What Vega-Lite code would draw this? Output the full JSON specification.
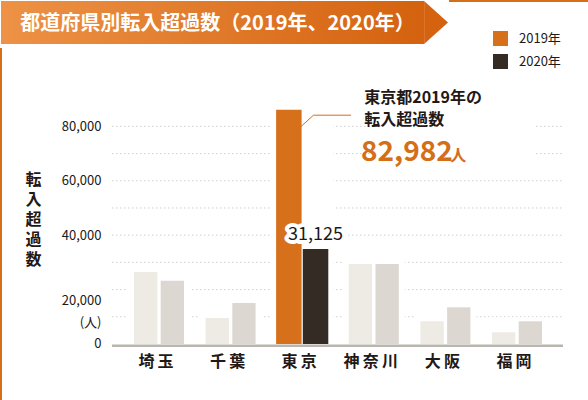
{
  "$schema": "https://vega.github.io/schema/vega-lite/v6.json",
  "padding": 0,
  "background": "white",
  "spacing": 0,
  "bounds": "full",
  "config": {
    "font": "Noto Sans CJK JP",
    "view": {"stroke": null}
  },
  "datasets": {
    "bars": [
      {"pref": "埼玉", "year": "2019年", "value": 26470},
      {"pref": "埼玉", "year": "2020年", "value": 23270},
      {"pref": "千葉", "year": "2019年", "value": 9560},
      {"pref": "千葉", "year": "2020年", "value": 15070},
      {"pref": "東京", "year": "2019年", "value": 86130},
      {"pref": "東京", "year": "2020年", "value": 34920},
      {"pref": "神奈川", "year": "2019年", "value": 29410},
      {"pref": "神奈川", "year": "2020年", "value": 29410},
      {"pref": "大阪", "year": "2019年", "value": 8350},
      {"pref": "大阪", "year": "2020年", "value": 13490},
      {"pref": "福岡", "year": "2019年", "value": 4300},
      {"pref": "福岡", "year": "2020年", "value": 8350}
    ],
    "grid": [
      {"v": 10000}, {"v": 20000}, {"v": 30000}, {"v": 40000},
      {"v": 50000}, {"v": 60000}, {"v": 70000}, {"v": 80000}
    ]
  },
  "vconcat": [
    {
      "spacing": 0,
      "hconcat": [
        {
          "width": 423,
          "height": 43,
          "view": {
            "stroke": null,
            "fill": {
              "gradient": "linear",
              "stops": [
                {"offset": 0, "color": "#ed9246"},
                {"offset": 1, "color": "#d4620f"}
              ]
            }
          },
          "data": {"values": [{"t": "都道府県別転入超過数（2019年、2020年）"}]},
          "mark": {"type": "text", "color": "white", "fontSize": 20, "fontWeight": "bold", "dx": 5, "dy": 1.5},
          "encoding": {"text": {"field": "t"}}
        },
        {
          "width": 22,
          "height": 43,
          "data": {"values": [{}]},
          "mark": {
            "type": "point",
            "shape": "M-0.6,-1L0.512,0L-0.6,1Z",
            "size": 1849,
            "filled": true,
            "opacity": 1,
            "strokeWidth": 0,
            "color": "#d4620f"
          }
        },
        {
          "width": 143,
          "height": 43,
          "view": {
            "strokeWidth": 2,
            "stroke": {
              "gradient": "linear", "x1": 0, "y1": 0, "x2": 0, "y2": 1,
              "stops": [
                {"offset": 0, "color": "#d46e17"},
                {"offset": 0.03, "color": "#d46e17"},
                {"offset": 0.031, "color": "rgba(212,110,23,0)"},
                {"offset": 1, "color": "rgba(212,110,23,0)"}
              ]
            }
          },
          "data": {"values": [{}]},
          "mark": {"type": "text", "text": ""}
        }
      ]
    },
    {
      "width": 588,
      "height": 356,
      "view": {
        "strokeWidth": 2,
        "stroke": {
          "gradient": "linear", "x1": 0, "y1": 0, "x2": 0, "y2": 1,
          "stops": [
            {"offset": 0, "color": "rgba(212,110,23,0)"},
            {"offset": 0.006, "color": "rgba(212,110,23,0)"},
            {"offset": 0.007, "color": "#d46e17"},
            {"offset": 1, "color": "#d46e17"}
          ]
        }
      },
      "data": {"name": "bars"},
      "layer": [
        {
          "data": {"name": "grid"},
          "mark": {"type": "rule", "color": "#cfcfcf", "strokeDash": [1.5, 2.5], "strokeWidth": 1, "xOffset": -47, "x2Offset": 46},
          "encoding": {
            "x": {"datum": "埼玉"},
            "x2": {"datum": "福岡"},
            "y": {"field": "v", "type": "quantitative"}
          }
        },
        {
          "mark": {"type": "bar", "color": "white", "width": {"band": 1.24}, "yOffset": -4},
          "encoding": {
            "x": {"field": "pref", "type": "nominal"},
            "y": {"aggregate": "max", "field": "value", "type": "quantitative"}
          }
        },
        {
          "data": {"values": [{}]},
          "mark": {"type": "rect", "color": "white", "xOffset": 2.2, "x2Offset": 19},
          "encoding": {
            "x": {"datum": "神奈川"},
            "x2": {"datum": "福岡"},
            "y": {"datum": 94100},
            "y2": {"datum": 64700}
          }
        },
        {
          "mark": {"type": "bar"},
          "encoding": {
            "x": {
              "field": "pref",
              "type": "nominal",
              "sort": null,
              "scale": {
                "type": "band",
                "domain": ["埼玉", "千葉", "東京", "神奈川", "大阪", "福岡"],
                "range": [133, 541],
                "paddingInner": 0.3017,
                "paddingOuter": 0
              },
              "axis": {
                "title": null,
                "orient": "bottom",
                "offset": -58,
                "domain": false,
                "ticks": false,
                "labelAngle": 0,
                "labelAlign": "center",
                "labelPadding": 17,
                "labelOffset": -3,
                "labelFontSize": 16,
                "labelFontWeight": "bold",
                "labelColor": "#231815",
                "labelExpr": "join(split(datum.label, ''), '\u2009')"
              }
            },
            "xOffset": {"field": "year", "type": "nominal", "scale": {"paddingInner": 0.127}},
            "y": {
              "field": "value",
              "type": "quantitative",
              "stack": null,
              "scale": {"domain": [-21321, 109545], "nice": false, "zero": false},
              "axis": {
                "orient": "left",
                "offset": -105,
                "values": [0, 20000, 40000, 60000, 80000],
                "grid": false,
                "domain": false,
                "ticks": false,
                "labelPadding": 5,
                "labelFontSize": 13,
                "labelColor": "#231815",
                "labelOverlap": false,
                "labelLineHeight": 22,
                "labelExpr": "datum.value === 20000 ? ['20,000', '(人)'] : format(datum.value, ',')",
                "labelOffset": {"condition": {"test": "datum.value === 20000", "value": 11}, "value": 0},
                "title": ["転", "入", "超", "過", "数"],
                "titleAngle": 0,
                "titleAlign": "center",
                "titleBaseline": "top",
                "titleX": -73,
                "titleY": 125,
                "titleFontSize": 16,
                "titleFontWeight": "bold",
                "titleLineHeight": 20,
                "titleColor": "#231815"
              }
            },
            "size": {
              "condition": {"test": "datum.pref === '東京'", "value": 25.5},
              "value": 23.3
            },
            "color": {
              "field": "year",
              "type": "nominal",
              "scale": {"domain": ["2019年", "2020年"], "range": ["#d6701a", "#342b25"]},
              "condition": [
                {"test": "datum.pref !== '東京' && datum.year === '2019年'", "value": "#eeeae4"},
                {"test": "datum.pref !== '東京' && datum.year === '2020年'", "value": "#dcd8d1"}
              ],
              "legend": {
                "title": null,
                "orient": "none",
                "legendX": 492,
                "legendY": 30,
                "padding": 0,
                "symbolType": "square",
                "symbolSize": 225,
                "symbolStrokeWidth": 0,
                "symbolOpacity": 1,
                "labelFontSize": 13,
                "labelOffset": 11,
                "labelColor": "#231815",
                "rowPadding": 8
              }
            }
          }
        },
        {
          "data": {"values": [{}]},
          "mark": {"type": "rule", "color": "#bab5ae", "strokeWidth": 2.5, "xOffset": -47, "x2Offset": 46, "yOffset": 1.7},
          "encoding": {
            "x": {"datum": "埼玉"},
            "x2": {"datum": "福岡"},
            "y": {"datum": 0}
          }
        },
        {
          "data": {"values": [{}]},
          "mark": {"type": "rule", "color": "#d46e17", "strokeWidth": 1, "xOffset": -1.7, "x2Offset": 11.3},
          "encoding": {
            "x": {"datum": "東京"},
            "x2": {"datum": "東京"},
            "y": {"datum": 79770},
            "y2": {"datum": 84107}
          }
        },
        {
          "data": {"values": [{}]},
          "mark": {"type": "rule", "color": "#d46e17", "strokeWidth": 1, "xOffset": 11.3, "x2Offset": -22.8},
          "encoding": {
            "x": {"datum": "東京"},
            "x2": {"datum": "神奈川"},
            "y": {"datum": 84107}
          }
        },
        {
          "data": {"values": [{}]},
          "mark": {"type": "text", "fontSize": 18, "color": "white", "stroke": "white", "strokeWidth": 8, "strokeJoin": "round", "baseline": "middle"},
          "encoding": {
            "x": {"datum": "東京"},
            "xOffset": {"datum": "2020年"},
            "y": {"datum": 40250},
            "text": {"value": "31,125"}
          }
        },
        {
          "data": {"values": [{}]},
          "mark": {"type": "text", "fontSize": 18, "color": "#231815", "baseline": "middle"},
          "encoding": {
            "x": {"datum": "東京"},
            "xOffset": {"datum": "2020年"},
            "y": {"datum": 40250},
            "text": {"value": "31,125"}
          }
        },
        {
          "data": {"values": [{}]},
          "mark": {"type": "text", "fontSize": 16, "fontWeight": "bold", "color": "#231815", "align": "left", "baseline": "middle", "dx": 62},
          "encoding": {
            "x": {"datum": "東京"},
            "y": {"datum": 90613},
            "text": {"value": "東京都2019年の"}
          }
        },
        {
          "data": {"values": [{}]},
          "mark": {"type": "text", "fontSize": 16, "fontWeight": "bold", "color": "#231815", "align": "left", "baseline": "middle", "dx": 62},
          "encoding": {
            "x": {"datum": "東京"},
            "y": {"datum": 82342},
            "text": {"value": "転入超過数"}
          }
        },
        {
          "data": {"values": [{}]},
          "mark": {"type": "text", "fontSize": 28, "fontWeight": "bold", "color": "#d46e17", "align": "left", "baseline": "alphabetic", "dx": 58.8},
          "encoding": {
            "x": {"datum": "東京"},
            "y": {"datum": 67161},
            "text": {"value": "82,982"}
          }
        },
        {
          "data": {"values": [{}]},
          "mark": {"type": "text", "fontSize": 16, "fontWeight": "bold", "color": "#d46e17", "align": "left", "baseline": "alphabetic", "dx": 148},
          "encoding": {
            "x": {"datum": "東京"},
            "y": {"datum": 67161},
            "text": {"value": "人"}
          }
        }
      ]
    }
  ]
}
